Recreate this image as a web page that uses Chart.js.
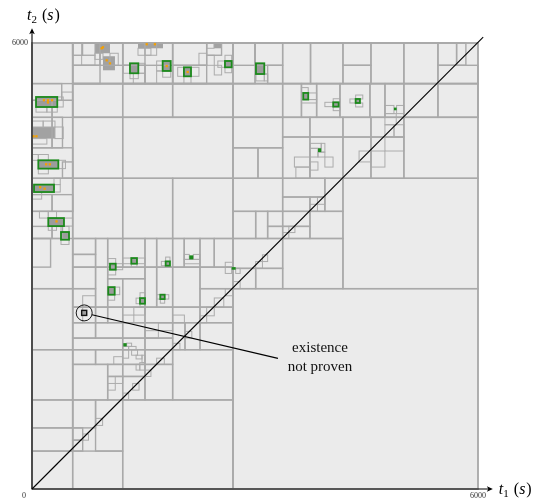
<!DOCTYPE html>
<html>
<head>
<meta charset="utf-8">
<script src="https://cdn.jsdelivr.net/npm/chart.js@4/dist/chart.umd.min.js"></script>
<style>html,body{margin:0;padding:0;background:#fff}canvas{display:block}</style>
</head>
<body>
<canvas id="c" width="535" height="500"></canvas>
<script>
// boxes are [t1_min, t2_min, t1_max, t2_max] in seconds
const mainCells = [
  [0,0,6000,6000],[0,0,547,6000],[547,5454,6000,6000],[547,0,2704,5454],
  [2704,0,6000,2695],[4183,2695,6000,4180],[5003,4180,6000,5000],[547,5000,6000,5454],
  [547,5000,1220,5454],[1220,5000,1892,5454],
  [547,4180,1220,5000],[1220,4180,2704,5000],
  [547,3370,1220,4180],[1220,3370,1892,4180],[1892,3370,2704,4180],
  // left column
  [0,5454,547,6000],
  [0,5000,270,5229],[270,5000,547,5229],[0,5229,400,5454],
  [0,4590,270,5000],[270,4590,410,5000],[0,4180,547,4590],[410,4180,547,4400],
  [0,3735,547,4180],[0,3735,270,3960],[270,3735,547,3960],
  [0,3370,270,3533],[270,3370,410,3533],
  [0,2695,547,3370],[0,2985,250,3370],
  [0,1874,547,2695],[0,1198,547,1874],
  [0,822,547,1198],[0,510,547,822],[0,0,1220,510],
  // bottom
  [547,822,855,1198],[547,510,682,657],[547,657,682,822],[855,510,1220,1198],[1220,0,2704,1198],
  // middle band
  [547,1198,1018,1676],[1018,1198,1220,1514],[1018,1514,1220,1676],[1220,1198,1520,1514],[1220,1514,1520,1676],[1520,1198,1892,1676],
  [547,1676,855,1874],[855,1676,1220,1874],[1220,1676,1520,1874],[1520,1676,1892,1874],[1892,1198,2704,1874],
  [547,2030,855,2237],[855,2030,1220,2237],[547,1874,1220,2030],[1220,1874,1520,2030],[1220,2030,1520,2237],[1520,2030,1892,2237],[1520,1874,1892,2030],
  [1892,1874,2058,2237],[2058,1874,2260,2237],[2260,1874,2704,2237],
  [547,2237,855,2447],[855,2237,1018,2447],[1018,2237,1220,2447],[1220,2237,1520,2447],[1520,2237,1892,2447],[1892,2237,2260,2447],[2260,2237,2704,2447],
  [547,2447,855,2695],[547,2695,855,2985],[855,2447,1018,2985],[1018,2447,1220,2829],[1220,2447,1520,2829],[1018,2829,1520,2985],
  [1520,2447,1677,2985],[1677,2447,1892,2985],[1892,2447,2260,2985],[2260,2447,2704,2695],[2260,2695,2704,2985],
  [547,2985,855,3156],[547,3156,855,3370],[855,2985,1018,3370],[1018,2985,1220,3370],[1220,2985,1520,3370],[1520,2985,1677,3370],
  [1677,2985,1892,3370],[1892,2985,2048,3370],[2048,2985,2260,3370],[2260,2985,2452,3370],[2452,2985,2704,3370],
  // right middle
  [2704,3735,3372,4180],[3372,3928,3940,4180],[3940,3735,4183,4180],[3372,3735,3739,3928],[3739,3735,3940,3928],
  [2704,3370,3009,3735],[3009,3370,3170,3735],[3170,3370,3372,3533],[3170,3533,3372,3735],[3372,3370,3739,3533],[3372,3533,3739,3735],[3739,3370,4183,3735],
  [2704,2695,3009,2968],[3009,2695,3372,2968],[2704,2968,3372,3370],[3372,2695,4183,3370],
  // upper right
  [2704,4590,3372,5000],[2704,4180,3040,4590],[3040,4180,3372,4590],
  [3372,4735,3739,5000],[3739,4735,4183,5000],[4183,4735,4560,5000],[4560,4735,5003,5000],
  [3372,4180,3739,4735],[3739,4180,4183,4735],[4183,4180,4560,4735],[4560,4180,5003,4735],
  [1892,5000,2704,5454],[2704,5000,3372,5454],[3372,5000,3625,5454],[3625,5000,3829,5454],[3829,5000,4143,5454],
  [4143,5000,4546,5454],[4546,5000,4748,5454],[4748,5000,5003,5454],[5003,5000,5461,5454],[5461,5000,6000,5454],
  // top strip
  [547,5454,1220,6000],[547,5700,915,6000],[547,5835,680,6000],[915,5700,1220,6000],[547,5454,915,5700],
  [1220,5454,1892,6000],[1220,5700,1520,6000],[1220,5454,1520,5700],[1520,5454,1892,5700],
  [1892,5454,2704,6000],[1892,5700,2350,6000],[1892,5454,2350,5700],[2350,5835,2550,6000],
  [2704,5454,3000,6000],[2704,5700,3000,6000],[3000,5700,3372,6000],[3170,5454,3372,5700],
  [3372,5454,3747,6000],[3747,5454,4183,6000],[4183,5700,4560,6000],[4183,5454,4560,5700],[4560,5454,5003,6000],[5003,5454,5461,6000],
  [5461,5700,5712,6000],[5712,5700,5837,6000],[5461,5454,6000,5700]
];

const fineCells = [
  [54,5070,200,5139],[200,5070,340,5139],[340,5139,420,5274],[400,5229,547,5340],
  [0,4870,150,4950],[150,4870,309,4950],[309,4714,420,4870],[0,4640,200,4714],
  [0,4422,85,4500],[85,4422,220,4500],[354,4310,450,4422],[85,4240,220,4310],
  [296,3995,380,4095],[296,4095,380,4180],[0,3900,130,3995],
  [100,3645,219,3735],[219,3645,330,3735],[430,3537,547,3645],[219,3480,330,3537],
  [390,3457,498,3533],[390,3290,498,3354],
  [668,5700,847,5835],[1363,5454,1520,5593],[1520,5835,1677,6000],[1677,5454,1892,5624],
  [2246,5700,2350,5862],[2350,5700,2452,5835],[2452,5570,2551,5700],[3000,5454,3170,5583],
  [1318,5520,1430,5593],[1430,5593,1520,5727],[1228,5593,1318,5700],
  [1758,5540,1866,5624],[1677,5624,1758,5758],
  [2139,5552,2246,5673],[2044,5454,2139,5552],[1960,5552,2044,5673],
  [2596,5600,2686,5673],[2500,5673,2596,5758],[2596,5758,2686,5835],
  [3013,5490,3125,5583],[3125,5490,3170,5583],
  [668,5835,847,6000],[847,5780,955,5862],[1049,5700,1160,5862],[1426,5835,1600,5929],[2350,5929,2448,6000],
  [3625,5193,3829,5239],[3716,5239,3829,5328],[3625,5328,3716,5400],
  [3940,5144,4052,5202],[4052,5090,4143,5144],[4052,5202,4143,5250],
  [4277,5193,4354,5247],[4354,5140,4450,5193],[4354,5247,4450,5300],
  [4748,5050,4869,5160],[4905,5050,5003,5160],[4748,4900,4900,5050],
  [3739,4466,3847,4583],[3847,4466,3940,4532],[3891,4532,3940,4650],[3739,4583,3891,4650],
  [3530,4331,3739,4466],[3940,4331,4050,4466],[3550,4180,3739,4331],[3739,4290,3847,4400],
  [4560,4331,4748,4547],[4748,4547,5003,4735],[4748,4735,4870,4900],[4870,4735,5003,4900],[4400,4400,4560,4547],
  [1018,2880,1126,2950],[1126,2950,1220,3031],[1018,3031,1126,3100],
  [1220,3031,1336,3107],[1412,3031,1520,3107],[1336,2985,1412,3031],
  [1740,3004,1798,3062],[1798,3062,1856,3120],
  [2048,3089,2116,3156],[2170,3089,2260,3156],[2048,3030,2260,3089],
  [2600,2900,2686,2985],[2740,2900,2800,2968],[2600,2985,2704,3050],
  [1018,2540,1112,2614],[1112,2614,1180,2716],
  [1453,2447,1520,2493],[1400,2493,1453,2568],[1453,2568,1520,2640],
  [1677,2555,1726,2614],[1726,2500,1785,2555],[1785,2555,1840,2614],
  [547,2237,682,2447],[682,2447,855,2600],[1220,2237,1370,2340],[1370,2340,1520,2447],
  [1520,2030,1700,2130],[1700,2130,1892,2237],[1892,2237,2050,2340],
  [1220,1874,1300,1918],[1274,1918,1340,1962],[1300,1874,1400,1918],[1340,1800,1420,1874],[1400,1750,1480,1800],
  [1100,1676,1220,1780],[1220,1760,1300,1874],[1480,1700,1520,1800],[1450,1600,1520,1700],[1400,1600,1450,1676],
  [3739,3735,3840,3830],[3840,3830,3940,3928],[3372,3370,3455,3450],[3455,3450,3537,3533],
  [3009,2968,3100,3060],[3100,3060,3170,3150],[2704,2695,2800,2790],[2600,2600,2704,2695],
  [2452,2447,2580,2570],[2260,2237,2350,2330],[2350,2330,2452,2447],[2058,2030,2150,2120],[1892,1874,1990,1960],
  [1677,1676,1780,1760],[1520,1514,1600,1600],[1354,1330,1440,1420],[1220,1198,1300,1290],
  [1018,1330,1120,1420],[1120,1420,1220,1514],[855,855,950,950],[682,657,760,740]
];

const darkCells = [
  [9,4714,309,4870],
  [847,5862,1049,5996],[955,5633,1116,5822],
  [1426,5929,1762,5996],[2448,5929,2556,5996]
];

const greenBoxes = [
  [54,5139,340,5274],[85,4310,354,4422],[27,3995,296,4095],[219,3537,430,3645],[390,3354,498,3457],
  [1318,5593,1430,5727],[1758,5624,1866,5758],[2044,5552,2139,5673],[2596,5673,2686,5758],[3013,5583,3125,5727],
  [3649,5239,3716,5328],[4052,5144,4125,5202],[4354,5193,4412,5247],
  [1049,2950,1126,3031],[1336,3031,1412,3107],[1798,3004,1856,3062],
  [1026,2614,1112,2716],[1453,2493,1520,2568],[1726,2555,1785,2614]
];

const greenDots = [
  [4869,5095,4905,5131],[3847,4532,3891,4583],[2116,3089,2170,3143],[2686,2950,2740,2985],[1228,1918,1274,1962]
];

const orangeT1 = [160,215,270,215, 20,60, 190,240, 110,170, 330, 955,937,1005,1049, 1654,1543,1812,2094];
const orangeT2 = [5230,5230,5230,5200, 4745,4745, 4368,4368, 4060,4040, 3600, 5942,5929,5767,5726, 5983,5983,5690,5610];

const diagonalT1 = [0, 6070];
const diagonalT2 = [0, 6080];

const xTicks = [0, 6000];
const yTicks = [6000];
const axisEnd = 6200;

const unprovenBox = [668,2335,736,2403];
const noteEnd = [3309,1757];
const noteAt = [3874,1767];
const noteLines = ['existence', 'not proven'];

const boxPlugin = {
  id: 'boxes',
  beforeDatasetsDraw(chart){
    const {ctx, chartArea:a, scales:{x, y}} = chart;
    const R = b => {
      const x1 = x.getPixelForValue(b[0]), x2 = x.getPixelForValue(b[2]);
      const y1 = y.getPixelForValue(b[3]), y2 = y.getPixelForValue(b[1]);
      return [x1, y1, x2 - x1, y2 - y1];
    };
    ctx.save();
    ctx.fillStyle = '#ebebeb';
    ctx.fillRect(a.left, a.top, a.right - a.left, a.bottom - a.top);
    ctx.fillStyle = '#a2a2a2';
    darkCells.forEach(b => ctx.fillRect(...R(b)));
    ctx.fillStyle = '#9c9c9c';
    greenBoxes.forEach(b => ctx.fillRect(...R(b)));
    ctx.strokeStyle = '#acacac'; ctx.lineWidth = 1;
    fineCells.forEach(b => ctx.strokeRect(...R(b)));
    ctx.strokeStyle = '#a9a9a9'; ctx.lineWidth = 1.4;
    mainCells.forEach(b => ctx.strokeRect(...R(b)));
    ctx.strokeStyle = '#1b8a1b'; ctx.lineWidth = 1.8;
    greenBoxes.forEach(b => ctx.strokeRect(...R(b)));
    ctx.fillStyle = '#1b8a1b';
    greenDots.forEach(b => ctx.fillRect(...R(b)));
    // the box whose existence is not proven
    ctx.fillStyle = '#9c9c9c'; ctx.fillRect(...R(unprovenBox));
    ctx.strokeStyle = '#111'; ctx.lineWidth = 1.4; ctx.strokeRect(...R(unprovenBox));
    ctx.restore();
  },
  afterDatasetsDraw(chart){
    const {ctx, scales:{x, y}} = chart;
    const x0 = x.getPixelForValue(0), y0 = y.getPixelForValue(0);
    const xe = x.getPixelForValue(axisEnd), ye = y.getPixelForValue(axisEnd);
    ctx.save();
    ctx.strokeStyle = '#000'; ctx.fillStyle = '#000'; ctx.lineWidth = 1.1;
    ctx.beginPath(); ctx.moveTo(x0, y0); ctx.lineTo(xe - 3, y0); ctx.stroke();
    ctx.beginPath(); ctx.moveTo(x0, y0); ctx.lineTo(x0, ye + 3); ctx.stroke();
    ctx.beginPath(); ctx.moveTo(xe, y0); ctx.lineTo(xe - 6, y0 - 2.8); ctx.lineTo(xe - 4.5, y0); ctx.lineTo(xe - 6, y0 + 2.8); ctx.closePath(); ctx.fill();
    ctx.beginPath(); ctx.moveTo(x0, ye); ctx.lineTo(x0 - 2.8, ye + 6); ctx.lineTo(x0, ye + 4.5); ctx.lineTo(x0 + 2.8, ye + 6); ctx.closePath(); ctx.fill();

    // tick labels
    ctx.font = '8px "Liberation Serif"'; ctx.fillStyle = '#333';
    ctx.textAlign = 'center'; ctx.textBaseline = 'middle';
    xTicks.forEach(v => ctx.fillText(String(v), x.getPixelForValue(v) + (v === 0 ? -8 : 0), y0 + 7));
    ctx.textAlign = 'right';
    yTicks.forEach(v => ctx.fillText(String(v), x0 - 4, y.getPixelForValue(v)));

    // axis titles
    const title = (px, py, sub) => {
      ctx.fillStyle = '#000'; ctx.textAlign = 'left'; ctx.textBaseline = 'alphabetic';
      ctx.font = 'italic 16px "Liberation Serif"'; ctx.fillText('t', px, py);
      let cx = px + ctx.measureText('t').width;
      ctx.font = '11px "Liberation Serif"'; ctx.fillText(sub, cx, py + 3);
      cx += ctx.measureText(sub).width + 5;
      ctx.font = '16px "Liberation Serif"'; ctx.fillText('(', cx, py);
      cx += ctx.measureText('(').width;
      ctx.font = 'italic 16px "Liberation Serif"'; ctx.fillText('s', cx, py);
      cx += ctx.measureText('s').width + 1;
      ctx.font = '16px "Liberation Serif"'; ctx.fillText(')', cx, py);
    };
    title(xe + 6, y0 + 5, '1');
    title(x0 - 5, ye - 8, '2');

    // annotation
    const cx = x.getPixelForValue((unprovenBox[0] + unprovenBox[2]) / 2);
    const cy = y.getPixelForValue((unprovenBox[1] + unprovenBox[3]) / 2);
    const r = 8;
    ctx.strokeStyle = '#000'; ctx.lineWidth = 0.9;
    ctx.beginPath(); ctx.arc(cx, cy, r, 0, Math.PI * 2); ctx.stroke();
    const ex = x.getPixelForValue(noteEnd[0]), ey = y.getPixelForValue(noteEnd[1]);
    const ang = Math.atan2(ey - cy, ex - cx);
    ctx.lineWidth = 1.1;
    ctx.beginPath(); ctx.moveTo(cx + r * Math.cos(ang), cy + r * Math.sin(ang)); ctx.lineTo(ex, ey); ctx.stroke();
    ctx.fillStyle = '#111'; ctx.font = '15px "Liberation Serif"';
    ctx.textAlign = 'center'; ctx.textBaseline = 'middle';
    const tx = x.getPixelForValue(noteAt[0]), ty = y.getPixelForValue(noteAt[1]);
    noteLines.forEach((s, i) => ctx.fillText(s, tx, ty + (i - 0.5) * 19));
    ctx.restore();
  }
};

new Chart(document.getElementById('c'), {
  type: 'scatter',
  data: {
    datasets: [
      {
        data: diagonalT1.map((v, i) => ({x: v, y: diagonalT2[i]})),
        showLine: true, borderColor: '#000', borderWidth: 1.1, pointRadius: 0, clip: false
      },
      {
        data: orangeT1.map((v, i) => ({x: v, y: orangeT2[i]})),
        pointStyle: 'rect', pointRadius: 1.6, backgroundColor: '#f5a000', borderWidth: 0
      }
    ]
  },
  options: {
    responsive: false, animation: false, devicePixelRatio: 1,
    layout: {padding: {left: 32, top: 43, right: 57, bottom: 11}},
    scales: {
      x: {type: 'linear', min: 0, max: 6000, display: false},
      y: {type: 'linear', min: 0, max: 6000, display: false}
    },
    plugins: {legend: {display: false}, tooltip: {enabled: false}}
  },
  plugins: [boxPlugin]
});
</script>
</body>
</html>
